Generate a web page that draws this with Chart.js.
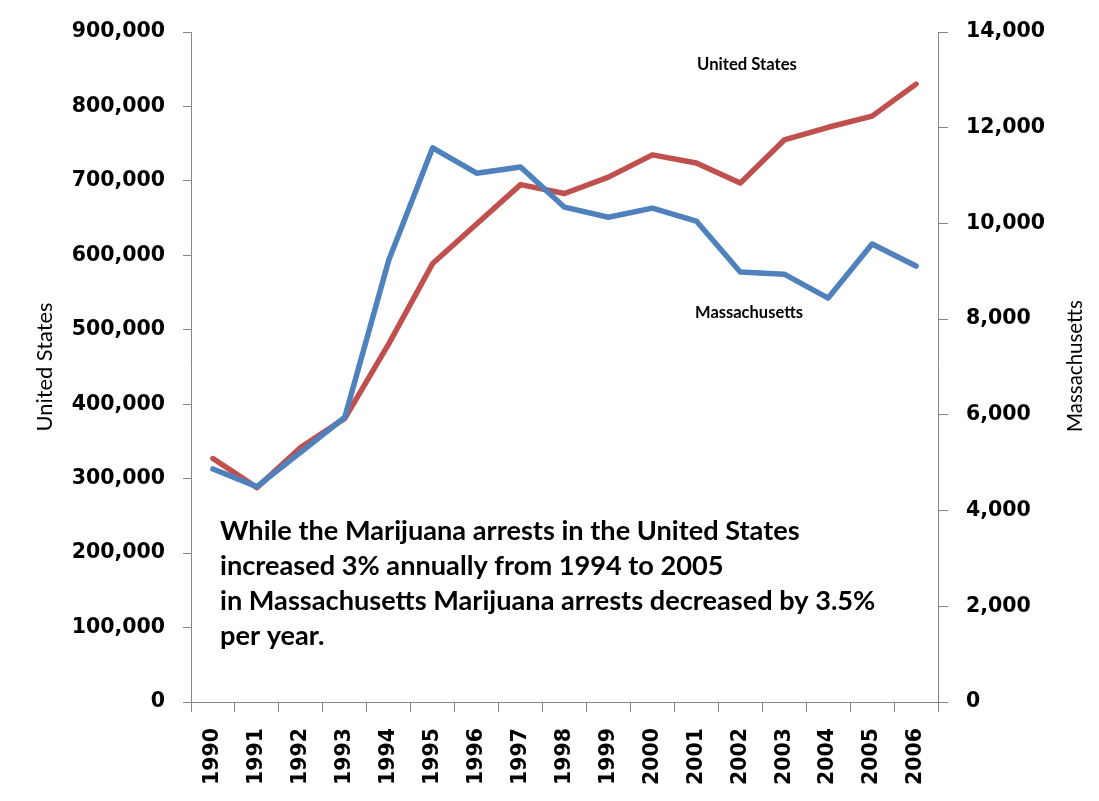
<!DOCTYPE html>
<html>
<head>
<meta charset="utf-8">
<script src="https://cdn.jsdelivr.net/npm/chart.js"></script>
<style>
  html, body { margin: 0; padding: 0; background: #ffffff; }
  #wrap { width: 1099px; height: 801px; position: relative; }
</style>
</head>
<body>
<div id="wrap"><canvas id="c"></canvas></div>
<script>
// ---- data ----
const years = ['1990','1991','1992','1993','1994','1995','1996','1997','1998','1999','2000','2001','2002','2003','2004','2005','2006'];
const usArrests = [327000, 288000, 342000, 381000, 481000, 589000, 642000, 695000, 683000, 705000, 735000, 724000, 697000, 755000, 772000, 787000, 830000];
const maArrests = [4870, 4500, 5220, 5950, 9230, 11580, 11050, 11180, 10340, 10130, 10320, 10050, 8985, 8940, 8440, 9570, 9110];
const usAxisTicks = [0, 100000, 200000, 300000, 400000, 500000, 600000, 700000, 800000, 900000];
const maAxisTicks = [0, 2000, 4000, 6000, 8000, 10000, 12000, 14000];
const leftTitle = 'United States';
const rightTitle = 'Massachusetts';
const usLabel = 'United States';
const maLabel = 'Massachusetts';
const noteLines = [
  'While the Marijuana arrests in the United States',
  'increased 3% annually from 1994 to 2005',
  'in Massachusetts Marijuana arrests decreased by 3.5%',
  'per year.'
];

const RED = '#C0504D';
const BLUE = '#4F81BD';
const AXIS = '#868686';
const TICKFONT = { family: "'DejaVu Sans', sans-serif", size: 20.5, weight: 'bold' };

function fitSize(ctx, text, weight, family, targetW) {
  ctx.font = weight + ' 100px ' + family;
  return 100 * targetW / ctx.measureText(text).width;
}

const textPlugin = {
  id: 'texts',
  afterDatasetsDraw(chart) {
    const ctx = chart.ctx;
    const ca = chart.chartArea;
    const fam = "Lato, 'Open Sans', sans-serif";
    ctx.save();
    ctx.fillStyle = '#000000';
    ctx.textAlign = 'center';
    ctx.textBaseline = 'middle';
    const midY = (ca.top + ca.bottom) / 2;
    // axis titles (both read bottom-to-top)
    let s = fitSize(ctx, leftTitle, 'normal', fam, 129);
    ctx.font = 'normal ' + s + 'px ' + fam;
    ctx.save(); ctx.translate(45, midY); ctx.rotate(-Math.PI / 2); ctx.fillText(leftTitle, 0, 0); ctx.restore();
    s = fitSize(ctx, rightTitle, 'normal', fam, 132);
    ctx.font = 'normal ' + s + 'px ' + fam;
    ctx.save(); ctx.translate(1075, midY - 1); ctx.rotate(-Math.PI / 2); ctx.fillText(rightTitle, 0, 0); ctx.restore();
    // series labels
    s = fitSize(ctx, usLabel, 'bold', fam, 100);
    ctx.font = 'bold ' + s + 'px ' + fam;
    ctx.fillText(usLabel, 747, 65);
    s = fitSize(ctx, maLabel, 'bold', fam, 108);
    ctx.font = 'bold ' + s + 'px ' + fam;
    ctx.fillText(maLabel, 749, 313);
    // note block
    s = fitSize(ctx, noteLines[0], 'bold', fam, 580);
    ctx.font = 'bold ' + s + 'px ' + fam;
    ctx.textAlign = 'left';
    noteLines.forEach((ln, i) => ctx.fillText(ln, 220, 531.5 + i * 35));
    ctx.restore();
  }
};

function setTicks(arr) {
  return function (scale) { scale.ticks = arr.map(v => ({ value: v })); };
}

new Chart(document.getElementById('c'), {
  type: 'line',
  data: {
    labels: years,
    datasets: [
      {
        label: maLabel, data: maArrests, yAxisID: 'yMA',
        borderColor: BLUE, backgroundColor: BLUE, borderWidth: 5.5,
        pointRadius: 0, tension: 0, order: 0,
        borderJoinStyle: 'round', borderCapStyle: 'round'
      },
      {
        label: usLabel, data: usArrests, yAxisID: 'yUS',
        borderColor: RED, backgroundColor: RED, borderWidth: 5.5,
        pointRadius: 0, tension: 0, order: 1,
        borderJoinStyle: 'round', borderCapStyle: 'round'
      }
    ]
  },
  options: {
    responsive: true,
    maintainAspectRatio: false,
    animation: false,
    layout: { padding: { top: 32, left: 0, right: 0, bottom: 0 } },
    plugins: { legend: { display: false }, tooltip: { enabled: false } },
    scales: {
      x: {
        type: 'category',
        offset: true,
        grid: { offset: true, drawOnChartArea: false, drawTicks: true, tickLength: 10, color: AXIS },
        border: { display: true, color: AXIS, width: 1 },
        ticks: { font: TICKFONT, color: '#000', minRotation: 90, maxRotation: 90, autoSkip: false, padding: 16 },
        afterFit(scale) { scale.height = 99; }
      },
      yUS: {
        type: 'linear', position: 'left', min: 0, max: 900000,
        afterBuildTicks: setTicks(usAxisTicks),
        grid: { drawOnChartArea: false, drawTicks: true, tickLength: 8, color: AXIS },
        border: { display: true, color: AXIS, width: 1 },
        ticks: { font: TICKFONT, color: '#000', padding: 18,
                 callback: v => v.toLocaleString('en-US') },
        afterFit(scale) { scale.width = 191; }
      },
      yMA: {
        type: 'linear', position: 'right', min: 0, max: 14000,
        afterBuildTicks: setTicks(maAxisTicks),
        grid: { drawOnChartArea: false, drawTicks: true, tickLength: 10, color: AXIS },
        border: { display: true, color: AXIS, width: 1 },
        ticks: { font: TICKFONT, color: '#000', padding: 18,
                 callback: v => v.toLocaleString('en-US') },
        afterFit(scale) { scale.width = 161; }
      }
    }
  },
  plugins: [textPlugin]
});
</script>
</body>
</html>
